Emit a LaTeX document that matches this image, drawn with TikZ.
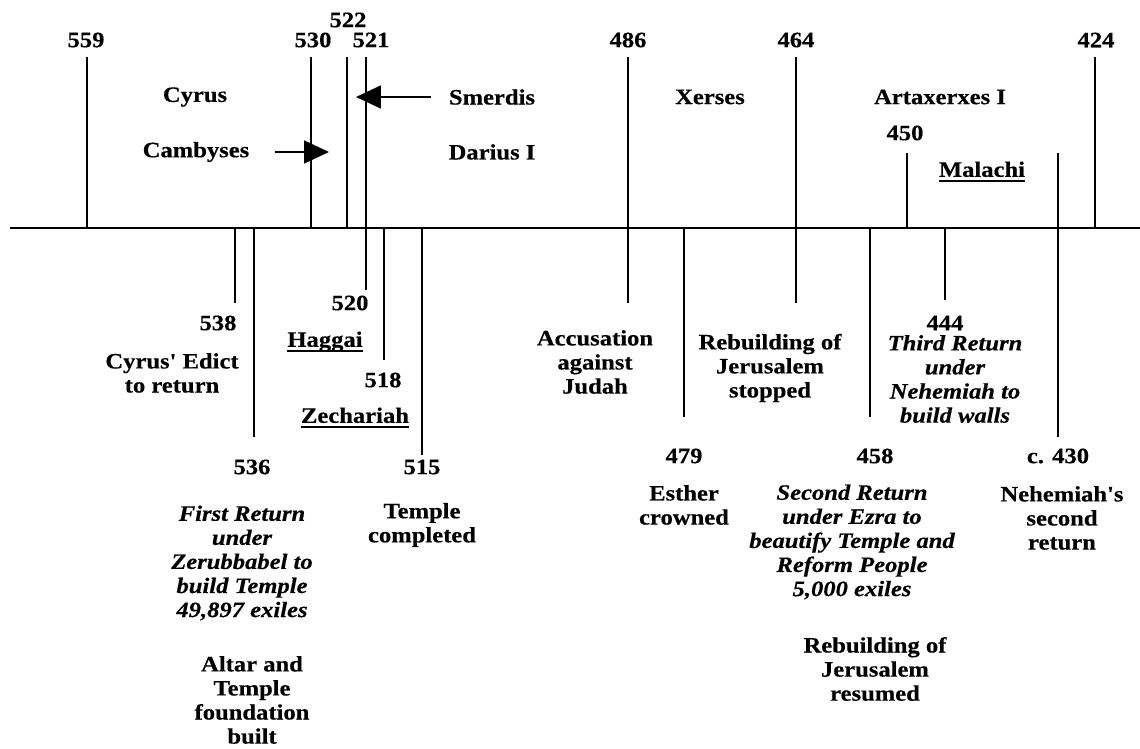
\documentclass[tikz,border=0pt]{standalone}
\usepackage{fontspec}
\setmainfont{Liberation Serif}[Ligatures=TeXOff,FakeStretch=1.12,
  BoldFeatures={FakeBold=0.4},BoldItalicFeatures={FakeBold=0.4}]
\usepackage{tikz}
\usetikzlibrary{arrows.meta}

\newcommand{\prophet}[1]{\setbox0\hbox{#1}\rlap{\rule[-3.2pt]{\wd0}{1.1pt}}\box0}

\begin{document}
\begin{tikzpicture}[
x=0.02cm,
y=-0.02cm,
every node/.style={
inner sep=0pt,
align=center,
font=\bfseries\fontsize{12.5}{13.7}\selectfont
},
story/.style={font=\bfseries\itshape\fontsize{12.5}{13.7}\selectfont},
yearline/.style={line width=1pt},
>={Triangle[length=0.5cm,width=0.46cm]}
]

\useasboundingbox (0,0) rectangle (1140,749);

% time axis
\coordinate (axisL) at (10,228);
\coordinate (axisR) at (1140,228);
\draw[line width=1.4pt] (axisL) -- (axisR);

% year lines
\foreach \x/\ya/\yb in {87/57/228, 311/57/228, 366/57/290, 628/57/303,
  796/57/303, 1095/57/228, 907/153/228, 1058/153/437, 235/228/303,
  254/228/437, 384/228/360, 422/228/455, 684/228/417, 870/228/417,
  945/228/300}
  \draw[yearline] (\x,\ya) -- (\x,\yb);
\draw[line width=0.6pt] (347,57) -- (347,228);

% years above
\node (y559) at (86,40) {559};
\node (y530) at (313,40) {530};
\node (y522) at (348,20) {522};
\node (y521) at (371,40) {521};
\node (y486) at (628,40) {486};
\node (y464) at (796,40) {464};
\node (y424) at (1096,40) {424};
\node (y450) at (905,133) {450};

% kings
\node (cyrus) at (195,97) {Cyrus};
\node (cambyses) at (196,152) {Cambyses};
\node (smerdis) at (492,97) {Smerdis};
\node (darius) at (492,152) {Darius I};
\node (xerses) at (710,97) {Xerses};
\node (artax) at (940,97) {Artaxerxes I};
\node (malachi) at (982,172) {\prophet{Malachi}};

\coordinate (cambTip) at (329,152);
\coordinate (smerTip) at (356,97);
\draw[->, line width=1pt] ([xshift=0.5cm]cambyses.east) -- (cambTip);
\draw[->, line width=1pt] ([xshift=-0.36cm]smerdis.west) -- (smerTip);

% years below
\node (y538) at (218,323) {538};
\node (y536) at (252,467) {536};
\node (y520) at (350,303) {520};
\node (y518) at (383,380) {518};
\node (y515) at (422,467) {515};
\node (y479) at (684,456) {479};
\node (y444) at (945,323) {444};
\node (y458) at (875,456) {458};
\node (y430) at (1058,456) {c. 430};

% events
\node (edict) at (172,373) {Cyrus' Edict\\to return};
\node[story] (first) at (242,563) {First Return\\under\\Zerubbabel to\\build Temple\\49,897 exiles};
\node (altar) at (252,700) {Altar and\\Temple\\foundation\\built};
\node (haggai) at (325,342) {\prophet{Haggai}};
\node (zech) at (355,418) {\prophet{Zechariah}};
\node (done) at (422,525) {Temple\\completed};
\node (accuse) at (595,362) {Accusation\\against\\Judah};
\node (stopped) at (770,368) {Rebuilding of\\Jerusalem\\stopped};
\node (esther) at (684,505) {Esther\\crowned};
\node[story] (third) at (955,379) {Third Return\\under\\Nehemiah to\\build walls};
\node[story] (second) at (852,542) {Second Return\\under Ezra to\\beautify Temple and\\Reform People\\5,000 exiles};
\node (resumed) at (875,669) {Rebuilding of\\Jerusalem\\resumed};
\node (nehem) at (1062,518) {Nehemiah's\\second\\return};

\end{tikzpicture}
\end{document}
